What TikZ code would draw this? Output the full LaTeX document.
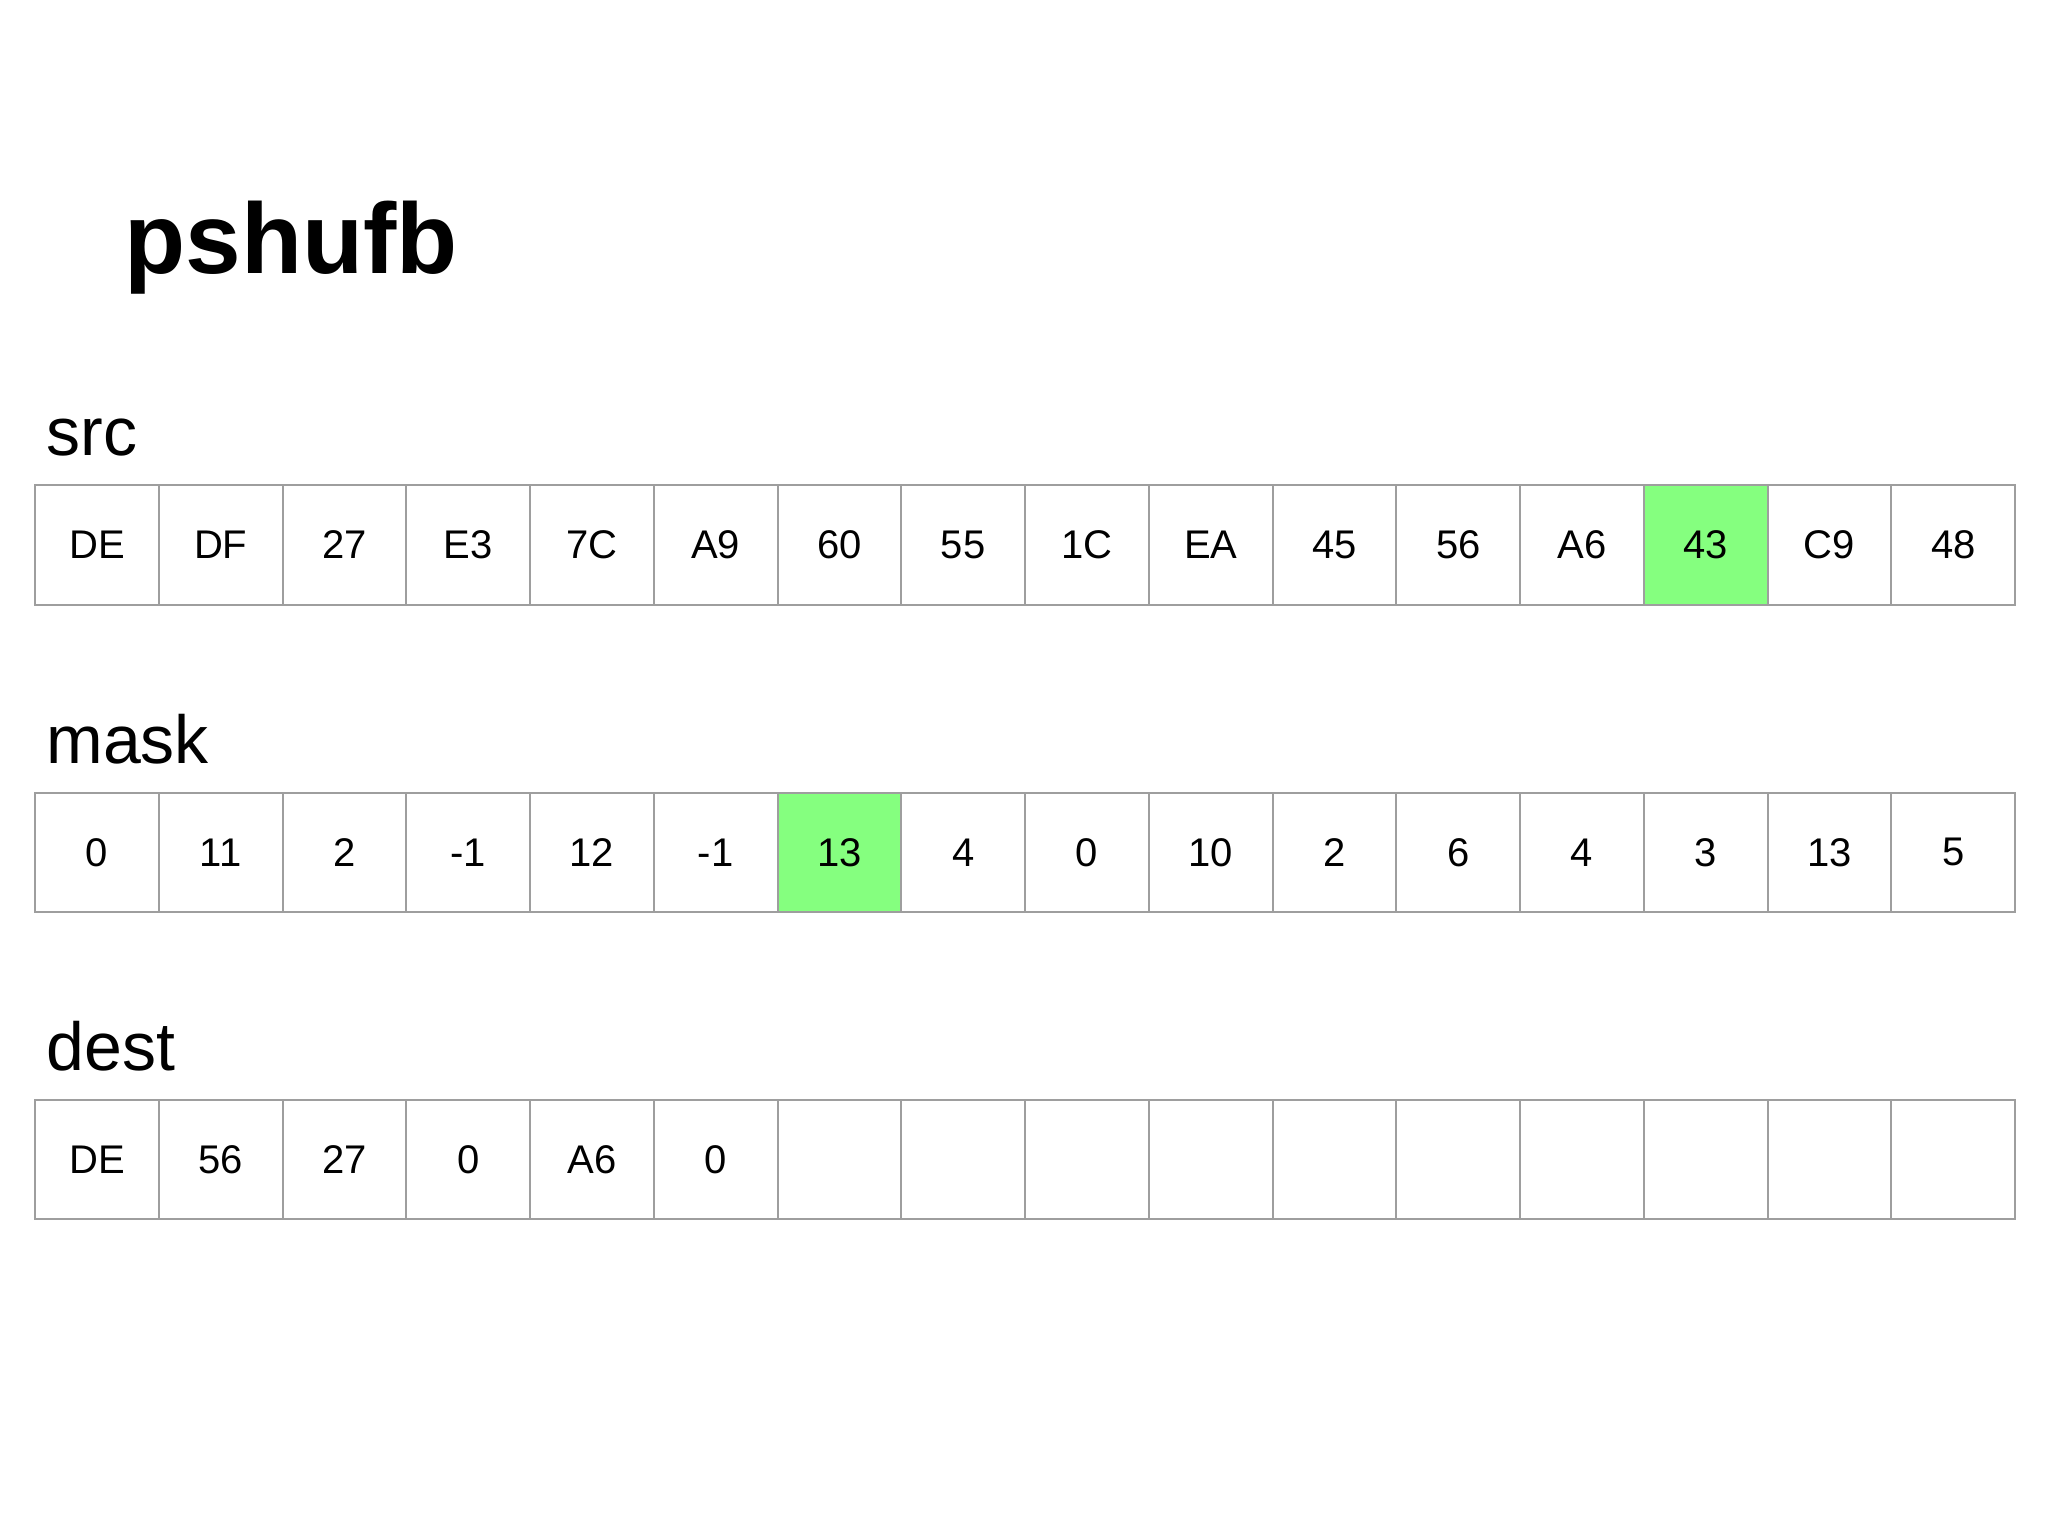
\documentclass[tikz,border=0pt]{standalone}
\usepackage{fontspec}
\setmainfont{Liberation Sans}
\usepackage{xcolor}
\usetikzlibrary{positioning}
\definecolor{cellgray}{HTML}{9E9E9E}
\definecolor{hlgreen}{HTML}{85FF7F}
\tikzset{
    cell/.style = {draw=cellgray, line width=1.1pt, rectangle, minimum width=61.875pt, minimum height=59.75pt, inner sep=0pt, anchor=north west, font=\fontsize{20}{24}\selectfont},
    row-label/.style = {anchor=base west, inner sep=0pt, font=\fontsize{34}{40}\selectfont},
    slide-title/.style = {anchor=base west, inner sep=0pt, font=\fontsize{50}{60}\selectfont\bfseries},
}

\begin{document}
\begin{tikzpicture}[x=0.5pt, y=-0.5pt]
\useasboundingbox (0,0) rectangle (2048,1536);

\node[slide-title] (title) at (124,273) {pshufb};

% source register
\node[row-label] (src) at (46,455) {src};
\foreach \val [count=\i from 0] in {DE,DF,27,E3,7C,A9,60,55,1C,EA,45,56,A6,43,C9,48} {
    \ifnum\i=13 \def\clr{hlgreen}\else\def\clr{white}\fi
    \node[cell, fill=\clr] (src-\i) at ({34+\i*123.75},484) {\val};
}

% shuffle mask
\node[row-label] (mask) at (46,763) {mask};
\foreach \val [count=\i from 0] in {0,11,2,-1,12,-1,13,4,0,10,2,6,4,3,13,5} {
    \ifnum\i=6 \def\clr{hlgreen}\else\def\clr{white}\fi
    \node[cell, fill=\clr] (mask-\i) at ({34+\i*123.75},791.5) {\val};
}

% result
\node[row-label] (dest) at (46,1070) {dest};
\foreach \val [count=\i from 0] in {DE,56,27,0,A6,0,{},{},{},{},{},{},{},{},{},{}} {
    \node[cell, fill=white] (dest-\i) at ({34+\i*123.75},1098.5) {\val};
}
\end{tikzpicture}
\end{document}
